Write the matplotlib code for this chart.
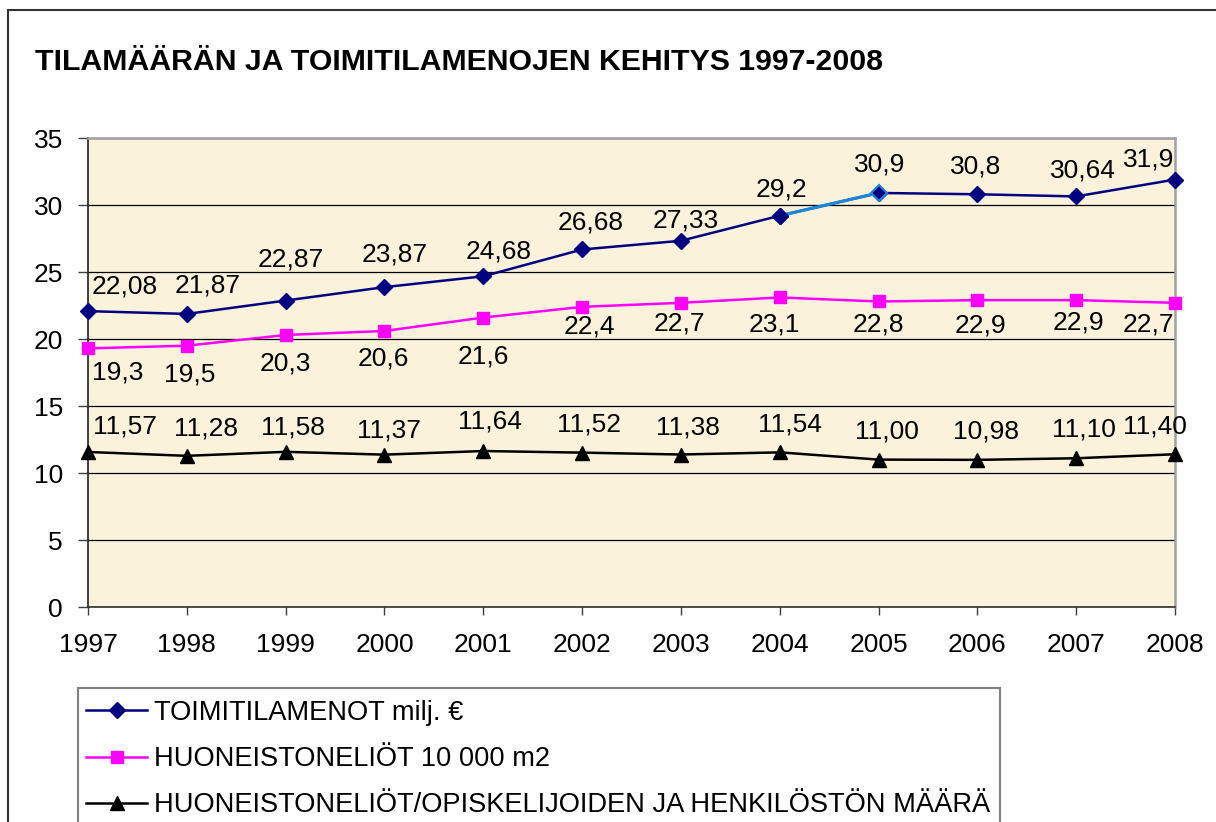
import matplotlib
matplotlib.use("Agg")
import matplotlib.pyplot as plt
from matplotlib.patches import Rectangle

plt.rcParams['font.family'] = ['Liberation Sans', 'DejaVu Sans']

# Data
years = [1997, 1998, 1999, 2000, 2001, 2002, 2003, 2004, 2005, 2006, 2007, 2008]
toimitilamenot = [22.08, 21.87, 22.87, 23.87, 24.68, 26.68, 27.33, 29.2, 30.9, 30.8, 30.64, 31.9]
huoneistoneliot = [19.3, 19.5, 20.3, 20.6, 21.6, 22.4, 22.7, 23.1, 22.8, 22.9, 22.9, 22.7]
neliot_per_hlo = [11.57, 11.28, 11.58, 11.37, 11.64, 11.52, 11.38, 11.54, 11.00, 10.98, 11.10, 11.40]

series_names = ['TOIMITILAMENOT milj. €',
                'HUONEISTONELIÖT 10 000 m2',
                'HUONEISTONELIÖT/OPISKELIJOIDEN JA HENKILÖSTÖN MÄÄRÄ']
title = 'TILAMÄÄRÄN JA TOIMITILAMENOJEN KEHITYS 1997-2008'

# label placement (pixel offsets of the label centre from the point)
blue_offsets = [(37, 27), (21, 30), (5, 43), (10, 35), (15, 27), (9, 29),
                (5, 22), (2, 28), (1, 30), (-2, 30), (7, 28), (-26, 22)]
pink_offsets = [(30, -22), (3, -27), (0, -27), (-1, -26), (0, -37), (7, -18),
                (-1, -19), (-5, -25), (0, -21), (3, -23), (2, -20), (-27, -20)]
black_offsets = [(37, 27), (19, 29), (7, 26), (5, 26), (7, 32), (7, 30),
                 (7, 29), (10, 30), (8, 30), (9, 30), (8, 31), (-20, 30)]

NAVY = '#000080'
LIGHTBLUE = '#1C86D9'
PINK = '#FF00FF'
FS = 19

fig = plt.figure(figsize=(12.16, 8.22), dpi=100)

# outer chart frame (right/bottom are cut off in the reference)
fig.patches.append(Rectangle((8 / 1216, -0.1), 1.2, 1 - 10 / 822 + 0.1,
                             transform=fig.transFigure, fill=False,
                             edgecolor='#333333', linewidth=1.5, clip_on=False))

fig.text(35 / 1216, 1 - 70 / 822, title, fontsize=21.8, fontweight='bold',
         ha='left', va='baseline')

ax = fig.add_axes([88 / 1216, 1 - 607 / 822, (1175 - 88) / 1216, (607 - 138) / 822])
ax.set_facecolor('#FBF2DC')

ax.plot(years, toimitilamenot, color=NAVY, lw=1.8, marker='D', ms=8,
        mfc=NAVY, mec=NAVY, clip_on=False, zorder=4, label=series_names[0])
# the 2004-2005 segment is highlighted in a lighter blue
ax.plot(years[7:9], toimitilamenot[7:9], color=LIGHTBLUE, lw=2.3, zorder=4.5)
ax.plot(years[7], toimitilamenot[7], marker='D', ms=8, mfc=NAVY, mec=NAVY, zorder=5)
ax.plot(years[8], toimitilamenot[8], marker='D', ms=8, mfc=NAVY,
        mec=LIGHTBLUE, mew=1.5, zorder=5)
ax.plot(years, huoneistoneliot, color=PINK, lw=1.8, marker='s', ms=9,
        mfc=PINK, mec=PINK, clip_on=False, zorder=4, label=series_names[1])
ax.plot(years, neliot_per_hlo, color='black', lw=1.8, marker='^', ms=10,
        mfc='black', mec='black', clip_on=False, zorder=4, label=series_names[2])

def fmt(v, dec=None):
    s = f"{v:.{dec}f}" if dec else f"{v:g}"
    return s.replace('.', ',')

for vals, offs, dec in [(toimitilamenot, blue_offsets, None),
                        (huoneistoneliot, pink_offsets, None),
                        (neliot_per_hlo, black_offsets, 2)]:
    for x, v, (dx, dy) in zip(years, vals, offs):
        ax.annotate(fmt(v, dec), (x, v), xytext=(dx, dy - 9),
                    textcoords='offset pixels', ha='center', va='baseline',
                    fontsize=FS, zorder=6, annotation_clip=False)

ax.set_xlim(1997, 2008)
ax.set_ylim(0, 35)
ax.set_xticks(years)
ax.set_yticks(range(0, 36, 5))
ax.tick_params(axis='x', direction='out', length=6, width=1, color='#404040',
               labelsize=FS, pad=13)
ax.tick_params(axis='y', direction='out', length=7, width=1, color='#404040',
               labelsize=FS, pad=11)
ax.grid(axis='y', color='black', linewidth=0.9)
ax.set_axisbelow(True)
for s in ['top', 'right']:
    ax.spines[s].set_color('#A0A0A0')
    ax.spines[s].set_linewidth(1.8)
ax.spines['left'].set_color('#202020')
ax.spines['bottom'].set_color('#303030')
ax.spines['left'].set_linewidth(1.2)
ax.spines['bottom'].set_linewidth(1.2)

# legend box, partly cut off at the bottom
fig.patches.append(Rectangle((78 / 1216, -0.1), (1000 - 78) / 1216, 0.1 + 1 - 688 / 822,
                             transform=fig.transFigure, facecolor='white',
                             edgecolor='#808080', linewidth=1.5, clip_on=False))
handles = ax.get_lines()
fig.legend([handles[0], handles[4], handles[5]], series_names,
           loc='upper left', bbox_to_anchor=(86 / 1216, 1 - 700 / 822),
           frameon=False, fontsize=19.6, numpoints=1, handlelength=2.25,
           handletextpad=0.25, borderpad=0, borderaxespad=0, labelspacing=0.74)

fig.savefig('out.png', dpi=100)
